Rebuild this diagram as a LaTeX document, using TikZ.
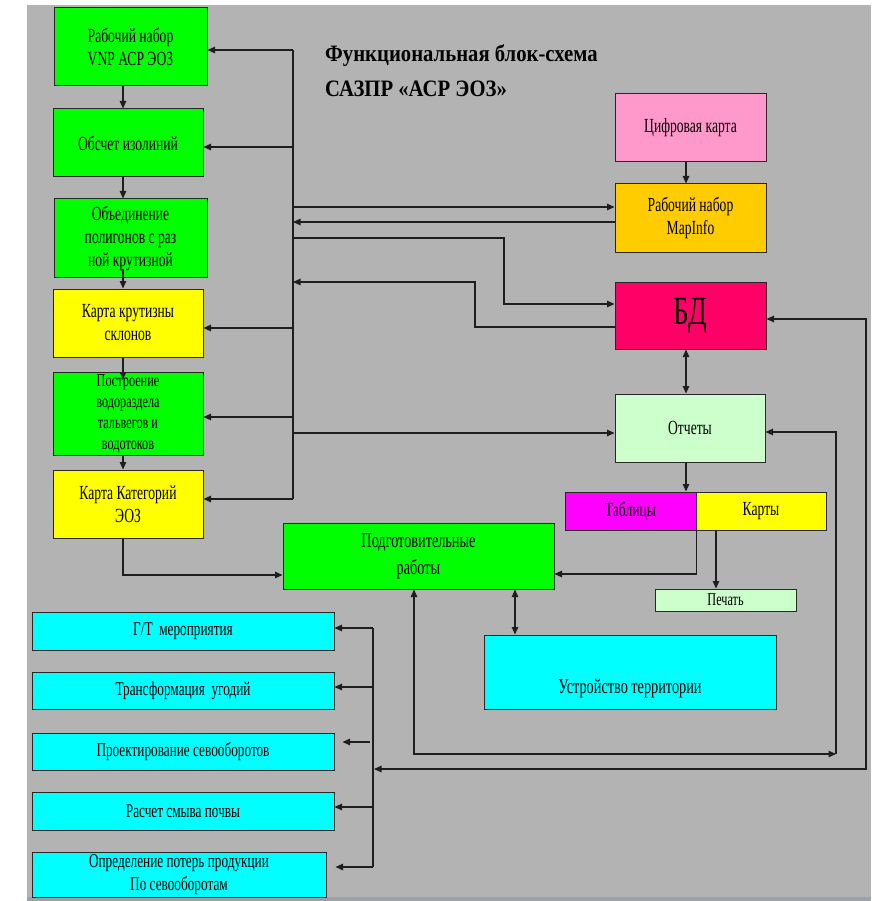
\documentclass[tikz,border=0pt]{standalone}
\usepackage{fontspec}
\setmainfont{Liberation Serif}[FakeStretch=0.68]
\newfontfamily\titlefont{Liberation Serif}[FakeStretch=0.88]
\usetikzlibrary{arrows.meta,calc}
\newcommand\fsz[2]{\fontsize{#1}{#2}\selectfont}

\definecolor{bggray}{RGB}{179,179,179}
\definecolor{stripgray}{RGB}{158,160,168}
\definecolor{edgec}{RGB}{40,40,40}
\definecolor{wirec}{RGB}{30,30,30}
\definecolor{cgreen}{RGB}{0,255,0}
\definecolor{cyellow}{RGB}{255,255,0}
\definecolor{cpink}{RGB}{255,153,204}
\definecolor{cgold}{RGB}{255,204,0}
\definecolor{cred}{RGB}{255,0,102}
\definecolor{clgreen}{RGB}{204,255,204}
\definecolor{cmag}{RGB}{255,0,255}
\definecolor{ccyan}{RGB}{0,255,255}

\begin{document}
\begin{tikzpicture}[x=1pt,y=-1pt,
  box/.style={draw=edgec, line width=1pt, inner sep=0pt, align=center},
  sz/.style 2 args={minimum width=#1pt, minimum height=#2pt},
  txt/.style={font=\fsz{20}{23}},
  ln/.style={draw=wirec, line width=1.1pt},
  arr/.style={ln, -{Triangle[length=7.5pt,width=6.5pt]}},
  dbl/.style={ln, {Triangle[length=7.5pt,width=6.5pt]}-{Triangle[length=7.5pt,width=6.5pt]}}
]
\useasboundingbox (0,0) rectangle (871,901);
\fill[white] (0,0) rectangle (871,901);
\fill[bggray] (27,5) rectangle (871,897);
\fill[stripgray] (27,897) rectangle (871,901);

% title
\node[anchor=north west, align=left, inner sep=0pt,
      font=\titlefont\bfseries\fsz{23.5}{35}] (title) at (325,44)
  {Функциональная блок-схема\\САЗПР «АСР ЭОЗ»};

% left column of processing steps
\node[box, fill=cgreen, sz={153}{78}, txt] (b1) at (130.5,47) {Рабочий набор\\VNP АСР ЭОЗ};
\node[box, fill=cgreen, sz={150}{68}, txt] (b2) at (128,143) {Обсчет изолиний};
\node[box, fill=cgreen, sz={153}{78}, txt] (b3) at (130.5,238) {Объединение\\полигонов с раз\\ной крутизной};
\node[box, fill=cyellow, sz={150}{68}, txt] (b4) at (128,323) {Карта крутизны\\склонов};
\node[box, fill=cgreen, sz={150}{83}, font=\fsz{18}{21}] (b5) at (128,413.5) {Построение\\водораздела\\тальвегов и\\водотоков};
\node[box, fill=cyellow, sz={150}{68}, txt] (b6) at (128,504) {Карта Категорий\\ЭОЗ};

% right column
\node[box, fill=cpink, sz={151}{68}, txt] (cifr) at (690.5,128) {Цифровая карта};
\node[box, fill=cgold, sz={151}{68}, txt] (mapi) at (690.5,218) {Рабочий набор\\MapInfo};
\node[box, fill=cred, sz={151}{67}, font=\fsz{40}{46}] (bd) at (690.5,315.5) {БД};
\node[box, fill=clgreen, sz={150}{68}, txt] (otch) at (690,428) {Отчеты};
\node[box, fill=cmag, sz={131}{38}, txt] (tabl) at (630.5,511) {Таблицы};
\node[box, fill=cyellow, sz={130}{38}, txt] (kart) at (761,511) {Карты};
\node[box, fill=clgreen, sz={141}{22}, font=\fsz{18}{20}] (pech) at (725.5,600) {Печать};

% centre
\node[box, fill=cgreen, sz={271}{66}, font=\fsz{21}{27}] (podg) at (418.5,556) {Подготовительные\\работы};
\node[box, fill=ccyan, sz={292}{74}, font=\fsz{21}{28}] (ustr) at (630,672) {\strut\\Устройство территории};

% design tasks
\node[box, fill=ccyan, sz={302}{38}, font=\fsz{19.5}{23}] (c1) at (183,631) {Г/Т~ мероприятия};
\node[box, fill=ccyan, sz={302}{37}, font=\fsz{19.5}{23}] (c2) at (183,690.5) {Трансформация~ угодий};
\node[box, fill=ccyan, sz={302}{37}, font=\fsz{19.5}{23}] (c3) at (183,751.5) {Проектирование севооборотов};
\node[box, fill=ccyan, sz={302}{38}, font=\fsz{19.5}{23}] (c4) at (183,811) {Расчет смыва почвы};
\node[box, fill=ccyan, sz={294}{45}, font=\fsz{19.5}{23}] (c5) at (179,874.5) {Определение потерь продукции\\По севооборотам};

% chain of the left column
\coordinate (vx) at (123,0);
\draw[arr] (b1.south -| vx) -- (b2.north -| vx);
\draw[arr] (b2.south -| vx) -- (b3.north -| vx);
\draw[arr] ($(b3.south -| vx)+(0,-9)$) -- (b4.north -| vx);
\draw[arr] (b4.south -| vx) -- ($(b5.north -| vx)+(0,8)$);
\draw[arr] (b5.south -| vx) -- (b6.north -| vx);
\draw[arr] (b6.south -| vx) |- ($(podg.west)+(0,19)$);

% distribution bus
\coordinate (bt) at (293,50);
\coordinate (bb) at (293,499);
\coordinate (t2) at (293,147);
\coordinate (t4) at (293,328);
\coordinate (t5) at (293,417);
\draw[ln] (bt) -- (bb);
\draw[arr] (bt) -- (bt -| b1.east);
\draw[arr] (t2) -- (t2 -| b2.east);
\draw[arr] (t4) -- (t4 -| b4.east);
\draw[arr] (t5) -- (t5 -| b5.east);
\draw[arr] (bb) -- (bb -| b6.east);

\coordinate (m1) at (293,207);
\coordinate (m2) at (293,222);
\draw[arr] (m1) -- (m1 -| mapi.west);
\draw[arr] (m2 -| mapi.west) -- (m2);

\coordinate (d1) at (293,238);
\coordinate (d1k) at (504,304);
\draw[arr] (d1) -| (d1k) -- (d1k -| bd.west);
\coordinate (d2) at (293,282);
\coordinate (d2k) at (475,327);
\draw[arr] (d2k -| bd.west) -- (d2k) |- (d2);

\coordinate (o1) at (293,433);
\draw[arr] (o1) -- (o1 -| otch.west);

% right column links
\coordinate (ax) at (686,0);
\draw[arr] (cifr.south -| ax) -- (mapi.north -| ax);
\draw[dbl] (bd.south -| ax) -- (otch.north -| ax);
\draw[arr] (otch.south -| ax) -- (tabl.north -| ax);
\draw[arr] (tabl.south east) |- ($(podg.east)+(0,18)$);
\coordinate (kx) at (716,0);
\draw[arr] (kart.south -| kx) -- (pech.north -| kx);

% feedback loops
\coordinate (px1) at (414,0);
\coordinate (px2) at (515,0);
\coordinate (lp) at (836,754);
\draw[dbl] (podg.south -| px1) |- (lp);
\draw[arr] (lp) |- ($(otch.east)+(0,4)$);
\draw[dbl] (podg.south -| px2) -- (ustr.north -| px2);
\coordinate (rp) at (866,769);
\coordinate (lb) at (374,769);
\draw[dbl] (lb) -- (rp) |- ($(bd.east)+(0,3.5)$);

% bus of the design tasks
\coordinate (lt) at (373,628);
\coordinate (l2) at (373,687);
\coordinate (l3) at (370,742);
\coordinate (l4) at (373,807);
\coordinate (lbt) at (373,867);
\draw[ln] (lt) -- (lbt);
\draw[arr] (lt) -- (lt -| c1.east);
\draw[arr] (l2) -- (l2 -| c2.east);
\draw[arr] (l3) -- ($(l3 -| c3.east)+(8,0)$);
\draw[arr] (l4) -- (l4 -| c4.east);
\draw[arr] (lbt) -- ($(lbt -| c5.east)+(9,0)$);
\end{tikzpicture}
\end{document}
